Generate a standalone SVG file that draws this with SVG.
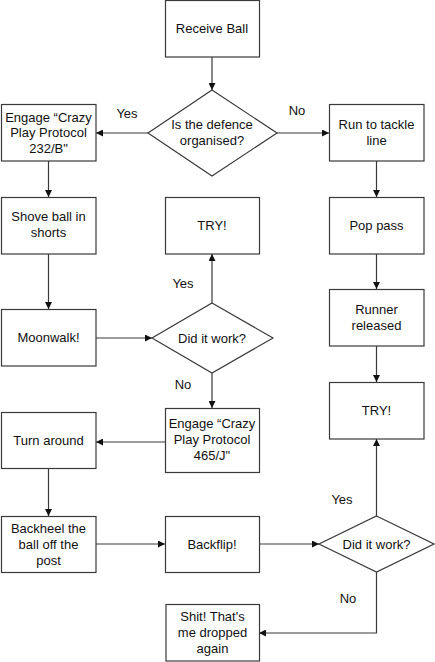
<svg xmlns="http://www.w3.org/2000/svg" width="435" height="662" viewBox="0 0 435 662">
<style>
.box{fill:#fff;stroke:#3a3a3a;stroke-width:1.2}
.t{font-family:"Liberation Sans",Arial,sans-serif;font-size:13px;fill:#111;text-anchor:middle}
.c{fill:none;stroke:#3a3a3a;stroke-width:1.2}
</style>
<defs>
<marker id="ah" viewBox="0 0 10 10" refX="10" refY="5" markerWidth="7" markerHeight="7" markerUnits="userSpaceOnUse" orient="auto">
<path d="M0,0 L10,5 L0,10 z" fill="#111"/>
</marker>
</defs>
<rect width="435" height="662" fill="#fff"/>
<g id="connectors">
<line class="c" x1="212" y1="57" x2="212" y2="90" marker-end="url(#ah)"/>
<line class="c" x1="148" y1="133" x2="96" y2="133" marker-end="url(#ah)"/>
<line class="c" x1="277" y1="133" x2="329" y2="133" marker-end="url(#ah)"/>
<line class="c" x1="48.5" y1="161" x2="48.5" y2="197" marker-end="url(#ah)"/>
<line class="c" x1="376.5" y1="161" x2="376.5" y2="197" marker-end="url(#ah)"/>
<line class="c" x1="48.5" y1="254" x2="48.5" y2="309" marker-end="url(#ah)"/>
<line class="c" x1="376.5" y1="254" x2="376.5" y2="289" marker-end="url(#ah)"/>
<line class="c" x1="96" y1="338" x2="152" y2="338" marker-end="url(#ah)"/>
<line class="c" x1="212" y1="303" x2="212" y2="254" marker-end="url(#ah)"/>
<line class="c" x1="212" y1="373" x2="212" y2="408" marker-end="url(#ah)"/>
<line class="c" x1="376.5" y1="346" x2="376.5" y2="382" marker-end="url(#ah)"/>
<line class="c" x1="165" y1="442" x2="96" y2="442" marker-end="url(#ah)"/>
<line class="c" x1="48.5" y1="468" x2="48.5" y2="516" marker-end="url(#ah)"/>
<line class="c" x1="96" y1="544" x2="165" y2="544" marker-end="url(#ah)"/>
<line class="c" x1="259" y1="544" x2="319" y2="544" marker-end="url(#ah)"/>
<line class="c" x1="376.5" y1="516" x2="376.5" y2="439" marker-end="url(#ah)"/>
<polyline class="c" points="376.5,572 376.5,633 259,633" marker-end="url(#ah)"/>
<text class="t" x="127" y="118">Yes</text>
<text class="t" x="297" y="115">No</text>
<text class="t" x="183" y="288">Yes</text>
<text class="t" x="183" y="389">No</text>
<text class="t" x="342" y="504">Yes</text>
<text class="t" x="348" y="603">No</text>
</g>
<g id="receive-ball"><rect class="box" x="165.5" y="0.5" width="94" height="56.5"/><text class="t" x="212" y="33">Receive Ball</text></g>
<g id="decision-defence"><polygon class="box" points="212,90 277,133 212,176 148,133"/><text class="t" x="212" y="128.5">Is the defence</text><text class="t" x="212" y="144.5">organised?</text></g>
<g id="engage-232b"><rect class="box" x="1.5" y="104.5" width="94.5" height="56.5"/><text class="t" x="48.5" y="121.5">Engage “Crazy</text><text class="t" x="48.5" y="137">Play Protocol</text><text class="t" x="48.5" y="152.5">232/B"</text></g>
<g id="run-tackle"><rect class="box" x="329.5" y="104.5" width="94.5" height="56.5"/><text class="t" x="376.5" y="129">Run to tackle</text><text class="t" x="376.5" y="144.5">line</text></g>
<g id="shove-ball"><rect class="box" x="1.5" y="197.5" width="94.5" height="56.5"/><text class="t" x="48.5" y="221">Shove ball in</text><text class="t" x="48.5" y="237">shorts</text></g>
<g id="try-center"><rect class="box" x="165.5" y="197.5" width="94" height="56.5"/><text class="t" x="212" y="230">TRY!</text></g>
<g id="pop-pass"><rect class="box" x="329.5" y="197.5" width="94.5" height="56.5"/><text class="t" x="376.5" y="229.5">Pop pass</text></g>
<g id="moonwalk"><rect class="box" x="1.5" y="309.5" width="94.5" height="56.5"/><text class="t" x="48.5" y="342">Moonwalk!</text></g>
<g id="decision-work1"><polygon class="box" points="212,303 273,338 212,373 152,338"/><text class="t" x="212" y="342.5">Did it work?</text></g>
<g id="runner-released"><rect class="box" x="329.5" y="289.5" width="94.5" height="56.5"/><text class="t" x="376.5" y="314">Runner</text><text class="t" x="376.5" y="330">released</text></g>
<g id="try-right"><rect class="box" x="329.5" y="382.5" width="94.5" height="56.5"/><text class="t" x="376.5" y="414.5">TRY!</text></g>
<g id="engage-465j"><rect class="box" x="165.5" y="408.5" width="94" height="64"/><text class="t" x="212" y="428">Engage “Crazy</text><text class="t" x="212" y="444">Play Protocol</text><text class="t" x="212" y="460">465/J"</text></g>
<g id="turn-around"><rect class="box" x="1.5" y="412.5" width="94.5" height="56"/><text class="t" x="48.5" y="444.5">Turn around</text></g>
<g id="backheel"><rect class="box" x="1.5" y="516.5" width="94.5" height="56"/><text class="t" x="48.5" y="532.5">Backheel the</text><text class="t" x="48.5" y="548.5">ball off the</text><text class="t" x="48.5" y="564.5">post</text></g>
<g id="backflip"><rect class="box" x="165.5" y="516.5" width="94" height="56"/><text class="t" x="212" y="548.5">Backflip!</text></g>
<g id="decision-work2"><polygon class="box" points="376.5,516 434,544 376.5,572 319,544"/><text class="t" x="376.5" y="548.5">Did it work?</text></g>
<g id="dropped"><rect class="box" x="166" y="604.5" width="93.5" height="56.5"/><text class="t" x="212.5" y="621" fill="#000">Shit! That's</text><text class="t" x="212.5" y="637">me dropped</text><text class="t" x="212.5" y="653">again</text></g>
</svg>
